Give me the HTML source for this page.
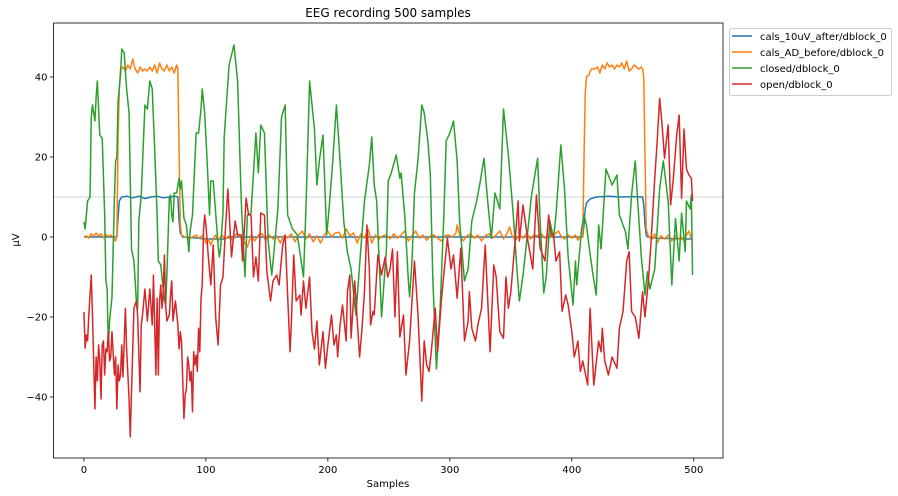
<!DOCTYPE html>
<html><head><meta charset="utf-8"><style>
body{margin:0;background:#fff}
svg{display:block;font-family:"DejaVu Sans","Liberation Sans",sans-serif}
</style></head><body>
<svg id="chart" width="898" height="496" viewBox="0 0 898 496">
<rect x="0" y="0" width="898" height="496" fill="#fff"/>
<text x="388" y="17" text-anchor="middle" font-size="12">EEG recording 500 samples</text>
<g id="plot"></g>
<text x="388" y="487" text-anchor="middle" font-size="10">Samples</text>
<text transform="translate(19,240) rotate(-90)" text-anchor="middle" font-size="10">μV</text>
<g>
<rect x="729.5" y="28.5" width="162" height="67" rx="2" fill="#fff" stroke="#ccc"/>
<g><line x1="732" y1="36" x2="752" y2="36" stroke="#1f77b4" stroke-width="1.5"/><text x="760" y="40" font-size="10">cals_10uV_after/dblock_0</text></g>
<g><line x1="732" y1="52" x2="752" y2="52" stroke="#ff7f0e" stroke-width="1.5"/><text x="760" y="56" font-size="10">cals_AD_before/dblock_0</text></g>
<g><line x1="732" y1="68" x2="752" y2="68" stroke="#2ca02c" stroke-width="1.5"/><text x="760" y="72" font-size="10">closed/dblock_0</text></g>
<g><line x1="732" y1="84" x2="752" y2="84" stroke="#d62728" stroke-width="1.5"/><text x="760" y="88" font-size="10">open/dblock_0</text></g>
</g>
</svg>
<script>
const xTicks=[0,100,200,300,400,500];
const yTicks=[-40,-20,0,20,40];
const refLine=10;
const calsData=[[0,0],[27,0],[28,5],[29,9],[31,10],[35,10.2],[40,9.8],[45,10.2],[50,9.6],[55,10],[60,10.2],[65,9.8],[70,10],[75,10.2],[77,10],[78,4],[79,1],[81,0],[90,-0.2],[100,-0.5],[110,-0.5],[115,-0.5],[120,0],[300,0],[409,0],[410,3],[411,7],[412,8.5],[415,9.5],[420,10],[430,10.2],[440,10],[450,10.1],[458,10],[459,8],[460,3],[461,0.5],[462,0],[470,-0.3],[499,-0.5]];
const adData=[[0,0],[2,0.3],[4,-0.3],[6,0.8],[8,0.2],[10,1],[12,0.2],[14,0.8],[16,-0.2],[18,0.6],[20,0.1],[22,0.5],[24,-0.2],[26,-1],[27,0.5],[28,25],[29,37],[30,42],[32,42.5],[34,41.5],[36,43],[38,42],[40,44.5],[42,42],[44,41],[46,42.5],[48,41.5],[50,42],[52,41.5],[54,42.5],[56,41.5],[58,43],[60,41],[62,43.5],[64,42],[66,41.5],[68,43],[70,41.5],[72,42.5],[74,41],[76,43],[77,42],[78,22],[79,3],[80,0.5],[83,0],[86,-0.5],[89,0],[92,0.5],[94,-0.3],[97,0.3],[99,-0.5],[100,-1.5],[102,-0.5],[104,-2],[106,-0.5],[108,0.5],[110,-1],[113,0.5],[116,-0.5],[119,0.3],[122,-0.8],[125,0.8],[128,0],[131,-1],[134,-2.5],[137,0.5],[140,-1],[143,0.5],[146,0.8],[149,-0.8],[152,0.5],[155,-0.5],[158,0.3],[161,-1.5],[164,0.3],[167,-0.2],[170,0.8],[173,-1.2],[176,0.5],[179,1.5],[182,-0.5],[185,0.8],[188,-1.2],[191,0.3],[194,-1.5],[197,0.5],[200,1.5],[203,0],[206,1],[209,1.2],[212,-0.3],[215,2],[218,0.3],[221,1],[224,-1.5],[227,0.8],[230,-0.3],[233,2],[236,-1.5],[239,0.5],[242,-0.5],[245,0.3],[248,0.5],[251,-0.5],[254,0.8],[257,-0.3],[260,0.5],[263,1.5],[266,-1],[269,0.3],[272,1.5],[275,-0.3],[278,0.5],[281,-0.8],[284,0.3],[287,0.5],[290,-0.3],[293,-1],[296,0.3],[299,0.5],[302,0],[305,1],[306,3],[308,0.5],[311,-1],[314,0.3],[317,0.8],[320,-0.3],[323,0.5],[326,-1],[329,0.3],[332,0.8],[335,-0.3],[338,0.5],[341,1.5],[344,-0.5],[347,1],[349,2.5],[351,0.3],[354,-0.8],[357,0.5],[360,-0.3],[363,1],[366,-0.5],[369,0.5],[372,0.3],[375,0.8],[378,-0.3],[381,0.5],[384,0],[387,1],[389,1.5],[391,0.3],[394,-0.5],[397,0.5],[400,-0.3],[403,0.5],[405,-0.8],[407,0.3],[409,0],[410,20],[411,36],[412,40],[414,40.5],[416,42],[419,42],[421,42.5],[423,41],[425,43],[427,42],[429,43.5],[431,42.5],[433,43],[435,42],[437,43],[439,42.5],[441,43.5],[443,42],[445,44],[447,41.5],[449,42],[451,43],[453,42.5],[455,42],[457,42.5],[458,42],[459,40],[460,20],[461,2],[463,0],[466,-0.5],[468,0.8],[470,-1.5],[473,0.3],[476,-0.5],[479,0.5],[482,-1],[485,0.3],[488,-0.5],[490,0],[492,-1],[494,0.5],[496,1.5],[498,-0.5],[499,-1]];
const closedData=[[0,3.8],[1,2],[3,9],[5,10],[6,30],[7,33],[9,29],[10,35],[11,39],[12,32],[13,25.5],[15,24.7],[17,5.5],[18,-11],[19,-13],[20,-27],[21,-21],[23,-15],[25,9.7],[26,19],[27,20],[28,34],[30,40.5],[31,47],[33,46],[35,37],[37,31],[39,-3],[41,-6],[43,-16],[44,-18],[45,4],[47,10.5],[49,25.5],[50,33],[52,32],[54,39],[56,37],[58,22],[60,5.5],[61,-6],[63,-7],[65,-13],[66,-16],[67,-17],[68,-9.5],[70,9.7],[71,10.5],[72,5.5],[73,3.8],[74,11],[76,11],[78,14.7],[79,12],[80,14],[82,4.7],[84,3],[86,-3.7],[87,1.3],[89,5.5],[92,26],[94,26],[96,32],[97,37],[99,31],[101,19],[103,5.5],[104,14],[106,14],[108,6],[110,-2],[111,-5],[112,-3],[114,6],[115,25],[119,43],[123,48],[126,39],[129,9],[132,-10],[134,5.5],[137,6],[141,26],[143,16],[145,28],[148,26],[151,-1],[154,-9.5],[156,-3],[159,7],[162,30],[165,33],[167,5.5],[171,2],[175,0.5],[180,-10],[182,7],[185,39],[189,27],[191,13],[193,19],[196,25.5],[199,0.5],[201,7],[204,19],[207,33],[210,19],[213,4],[216,-3.7],[219,-8],[223,-19.5],[226,-7],[230,9],[234,18],[236,25],[238,13],[240,9],[244,-20],[248,-3],[249.5,14],[252,16],[256,20.5],[259,14.7],[260,16],[263,5.5],[266,-11],[267,-15],[269,-6],[271,11],[274,19.7],[277,33],[279,31],[282,24],[284,15.5],[286,-10],[289,-33],[292,-18],[295,4.7],[297,24],[300,26],[303,29],[306,19],[308,4],[312,-11],[315,-8],[318,4],[322,9],[325,14],[328,19.7],[331,9],[334,-0.3],[337,11],[341,7],[344,32],[348,20.5],[352,5.5],[355,-8],[357,-16],[360,-9.5],[363,-1],[367,10.5],[372,19.7],[374,4],[377,-14],[379,-10],[382,4],[385,-0.3],[387,5.5],[391,23],[394,12],[397,-5],[401,-17],[403,-6],[404,-12],[408,2],[410,5.5],[412,3],[414,-2],[417,-8.7],[420,-14.5],[422,3],[424,-3],[428,17],[433,13],[437,15.5],[439,5.5],[444,1.3],[446,-3],[449,10.5],[452,19],[454,9],[457,-5],[460,-14.5],[462,-8.7],[464,-13],[468,-8],[472,12],[475,19],[479,9],[482,-12],[485,4.6],[488,-6],[490,6],[493,-3.7],[494,9],[497,7],[498,10.5],[499,-9.5]];
const openData=[[0,-18.7],[1,-27.8],[2,-24.5],[3,-26],[4,-19.5],[6,-9.5],[7,-19.5],[9,-43],[10,-30],[11,-36],[12,-27],[13,-31],[14,-40.5],[15,-27],[16,-26],[17,-34.5],[18,-28],[19,-28.7],[20,-23.7],[21,-31],[22,-30],[23,-23.7],[25,-34.5],[26,-30],[27,-43],[28,-32],[29,-36],[30,-34.5],[31,-27],[32,-35],[34,-17.8],[35,-28],[37,-40.5],[38,-50],[39,-38.7],[41,-17.8],[43,-16],[44,-19.5],[46,-38.7],[47,-22],[48,-19.5],[50,-13],[52,-21],[54,-13],[56,-22],[57,-9.5],[59,-34.5],[60,-15.3],[61,-34.5],[62,-16],[63,-12],[64,-17.8],[65,-13.7],[66,-4.5],[67,-17],[68,-21],[70,-19.5],[71,-14.5],[72,-11],[73,-21],[75,-16],[77,-22],[78,-28],[79,-23.7],[80,-26],[82,-45.4],[83,-39.5],[84,-38],[85,-30],[86,-32],[87,-36],[88,-33.6],[89,-43.7],[90,-28.7],[91,-32],[92,-29.5],[93,-33.6],[94,-22.8],[95,-28.7],[96,-15.3],[97,-12],[98,1.3],[99,5.5],[100,3],[102,-5],[104,-12],[106,-2],[108,-20],[110,-27],[112,-12],[114,-10],[116,2],[118,12],[121,-5],[124,4],[126,0.5],[129,0.5],[130,-6],[133,9.7],[135,5.5],[137,5.5],[139,-10],[141,-5],[143,-11],[145,6],[148,5.5],[150,-8.7],[153,-16],[155,-11],[158,-9.5],[160,-12],[163,-2],[165,0.5],[167,-14.5],[169,-28.7],[170,-22],[172,-4.5],[174,-16],[177,-14.5],[178,-19.5],[180,-11],[182,-17.8],[185,-10],[187,-23.7],[189,-28],[191,-21],[193,-32],[196,-23.7],[198,-32.8],[200,-27],[203,-19.5],[205,-27],[207,-24.5],[208,-30],[210,-22],[212,-17],[215,-26],[216,-13.7],[218,-9.5],[219,-25.3],[222,-11],[226,-30],[228,-22.8],[230,-13.7],[232,3],[234,-8],[235,-22],[237,-18.6],[238,-19.5],[241,-4.5],[244,-9.5],[247,-5],[249,-10],[251,-8],[253,-3],[255,-20],[257,-3.7],[259,-25],[262,-19.5],[264,-34.5],[267,-26],[271,-6],[274,-20],[277,-41],[279,-26],[281,-32],[283,-33.6],[285,-28],[288,-17.8],[290,-28.7],[293,-16],[295,-9.5],[298,-0.3],[301,-8],[303,-4.5],[306,-15.3],[309,-2.8],[312,-26],[315,-21],[316,-13.7],[318,-22.8],[321,-26],[323,-22],[326,-17.8],[329,-2],[333,-28.7],[336,-7],[338,-10],[341,-23.7],[344,-25.3],[346,-10],[348,-17.8],[350,-13.7],[353,-2.8],[356,9],[357,-1],[360,8],[364,-1],[368,-8],[371,10.5],[374,-2.8],[378,-6],[381,5.5],[383,0.5],[385,0.5],[387,-6],[390,-3.7],[392,-18.6],[395,-14.5],[397,-17],[400,-23.7],[402,-30],[405,-26],[407,-33.6],[409,-31],[413,-37],[415,-17.8],[418,-37],[422,-26],[424,-28.7],[425,-22.8],[427,-31],[430,-34.5],[433,-30],[437,-32.8],[439,-22.8],[442,-18.6],[445,-6],[447,-3.7],[449,-18.6],[452,-20],[455,-25.3],[458,-13.7],[460,-20],[463,-10],[465,-1],[468,14.7],[470,24],[472,34.7],[474,28],[476,19.7],[479,28],[481,8],[483,13.8],[486,25.5],[488,30.5],[490,9.7],[492,27],[494,17],[496,15.5],[498,14.7],[499,9]];

const X0=-24.95,X1=523.95,Y0=-55.25,Y1=53.5;
const L=53.5,R=723,T=23,B=458;
function sx(v){return L+(v-X0)*(R-L)/(X1-X0);}
function sy(v){return B-(v-Y0)*(B-T)/(Y1-Y0);}
const NS='http://www.w3.org/2000/svg';
const plot=document.getElementById('plot');
function mk(tag,attrs){const e=document.createElementNS(NS,tag);for(const k in attrs)e.setAttribute(k,attrs[k]);return e;}

const ref=mk('line',{x1:L,x2:R,y1:sy(refLine),y2:sy(refLine),stroke:'#d3d3d3','stroke-width':1});


plot.appendChild(ref);

const series=[[calsData,'#1f77b4','series-cals-10uv'],[adData,'#ff7f0e','series-cals-ad'],[closedData,'#2ca02c','series-closed'],[openData,'#d62728','series-open']];
series.forEach(function(s){
  const d=s[0].map(function(p,i){return (i?'L':'M')+sx(p[0]).toFixed(2)+','+sy(p[1]).toFixed(2);}).join('');
  const path=mk('path',{d:d,fill:'none',stroke:s[1],'stroke-width':1.5,'stroke-linejoin':'round'});
  
  
  plot.appendChild(path);
});

const frame=mk('rect',{x:L,y:T,width:R-L,height:B-T,fill:'none',stroke:'#000','stroke-width':0.8});


plot.appendChild(frame);

xTicks.forEach(function(t){
  const g=mk('g',{});
  
  
  g.appendChild(mk('line',{x1:sx(t),x2:sx(t),y1:B,y2:B+3.5,stroke:'#000','stroke-width':0.8}));
  const tx=mk('text',{x:sx(t),y:B+15,'text-anchor':'middle','font-size':10});
  tx.textContent=t;
  g.appendChild(tx);
  plot.appendChild(g);
});
yTicks.forEach(function(t){
  const g=mk('g',{});
  
  
  g.appendChild(mk('line',{x1:L-3.5,x2:L,y1:sy(t),y2:sy(t),stroke:'#000','stroke-width':0.8}));
  const tx=mk('text',{x:L-6,y:sy(t)+3.5,'text-anchor':'end','font-size':10});
  tx.textContent=(t<0?'\u2212'+(-t):t);
  g.appendChild(tx);
  plot.appendChild(g);
});
</script>
</body></html>
